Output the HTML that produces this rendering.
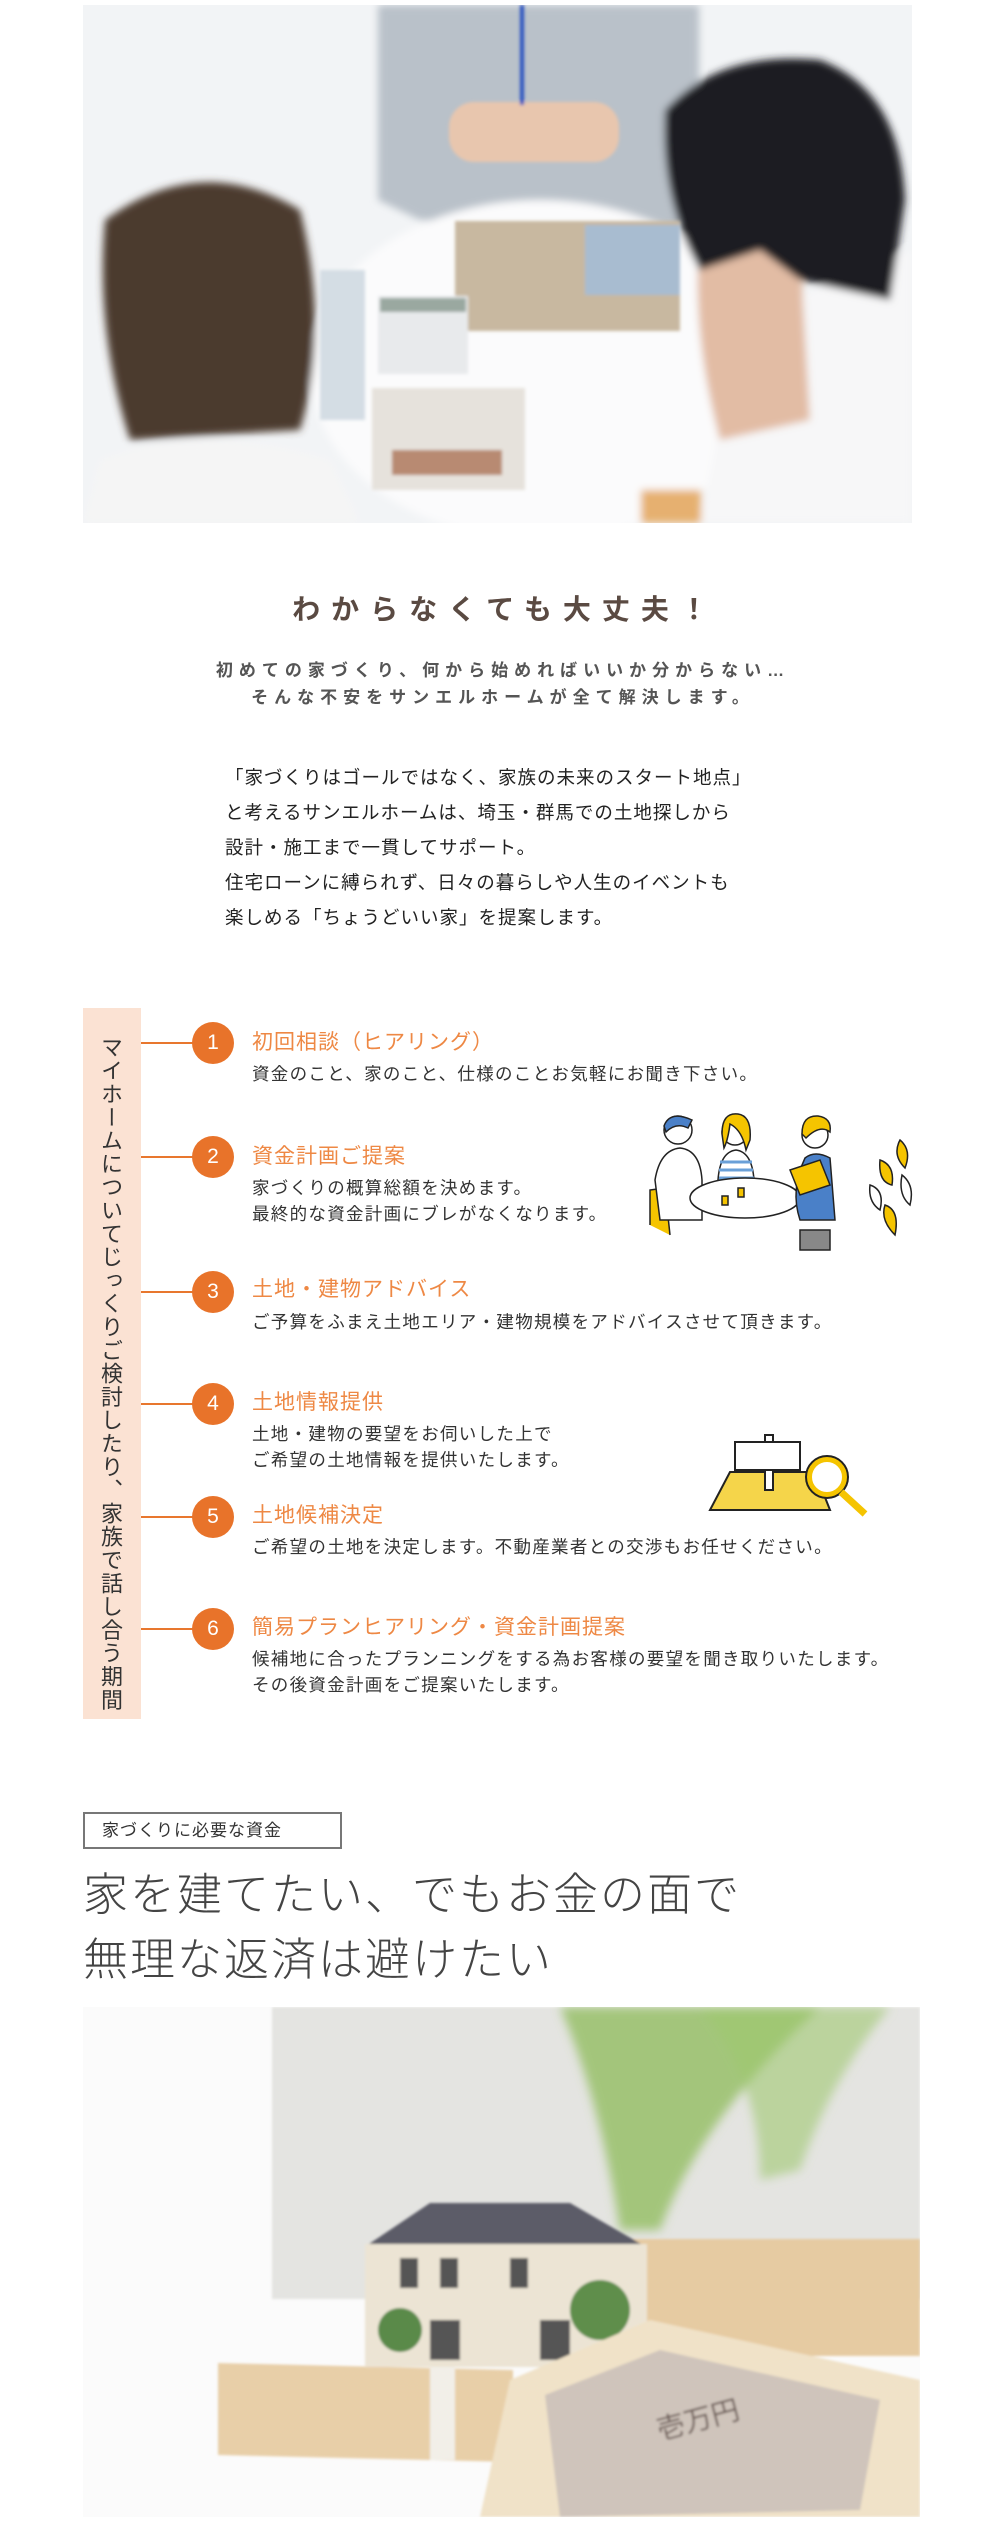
<!DOCTYPE html>
<html lang="ja"><head><meta charset="utf-8">
<style>
*{margin:0;padding:0;box-sizing:border-box}
html,body{width:1000px;height:2533px;background:#fff;overflow:hidden}
body{position:relative;font-family:"Liberation Sans","Noto Sans CJK JP",sans-serif}
.a{position:absolute;white-space:nowrap}
.title{left:0;width:1000px;text-align:center;top:588px;font-size:28px;font-weight:bold;color:#5a4a42;letter-spacing:11px;padding-left:11px}
.sub{left:0;width:1000px;text-align:center;font-size:17px;font-weight:bold;color:#555;letter-spacing:6px;padding-left:6px}
.para{left:225px;top:760px;font-size:18.5px;line-height:35px;color:#222;letter-spacing:1px}
.band{left:83px;top:1008px;width:58px;height:711px;background:#fbe2d3}
.vt{left:98px;top:1036px;writing-mode:vertical-rl;font-size:22px;letter-spacing:1.3px;color:#333;line-height:24px}
.ln{left:141px;width:52px;height:2px;background:#e8772e}
.c{left:192px;width:42px;height:42px;border-radius:50%;background:#e8732a;color:#fff;font-size:21px;text-align:center;line-height:42px}
.h{left:252px;font-size:21px;color:#ee8844;letter-spacing:1px;line-height:26px}
.d{left:252px;font-size:17.5px;color:#333;letter-spacing:1.3px;line-height:26px}
.box{left:83px;top:1812px;width:259px;height:37px;border:2px solid #777;font-size:17px;color:#333;line-height:33px;padding-left:17px;letter-spacing:1px}
.big{left:83px;font-size:45px;font-weight:300;color:#444;letter-spacing:2px;line-height:60px}
</style></head><body>

<svg class="a" style="left:83px;top:5px" width="829" height="518" viewBox="83 5 829 518">
<defs><filter id="b1"><feGaussianBlur stdDeviation="4"/></filter><filter id="b2"><feGaussianBlur stdDeviation="1.5"/></filter></defs>
<rect x="83" y="5" width="829" height="518" fill="#f2f4f6"/>
<g filter="url(#b1)">
<path d="M378 5 L699 5 L699 220 L660 230 L420 220 L378 200 Z" fill="#b9c1c9"/>
<ellipse cx="540" cy="370" rx="230" ry="170" fill="#fbfbfc"/>
<path d="M740 320 L912 250 L912 523 L700 523Z" fill="#f7f7f8"/>
<path d="M700 230 L800 250 L810 420 L720 440 Q690 330 700 230Z" fill="#e2bca4"/>
<path d="M665 110 Q720 50 820 60 Q900 90 905 200 L890 300 L800 280 L760 250 L700 270 Q660 200 665 110Z" fill="#1e1e22"/>
<path d="M105 220 Q200 150 300 210 Q330 330 300 430 L130 440 Q95 330 105 220Z" fill="#4b3a2f"/>
<path d="M100 460 Q200 420 330 460 L360 523 L83 523Z" fill="#f5f5f5"/>
<rect x="641" y="490" width="60" height="33" fill="#e6b070"/>
</g>
<g filter="url(#b2)">
<rect x="449" y="102" width="170" height="60" rx="25" fill="#e8c6ae"/>
<rect x="520" y="5" width="4" height="100" fill="#2850c0"/>
<rect x="455" y="221" width="225" height="110" fill="#c8b8a0"/>
<rect x="585" y="225" width="95" height="70" fill="#a8bcd0"/>
<rect x="378" y="296" width="90" height="78" fill="#e8eaec"/>
<rect x="380" y="298" width="86" height="14" fill="#9aa8a0"/>
<rect x="372" y="388" width="153" height="102" fill="#e6e2dc"/>
<rect x="392" y="450" width="110" height="25" fill="#b88a72"/>
<rect x="320" y="270" width="45" height="150" fill="#d4dde4"/>
</g>
</svg>

<div class="a title">わからなくても大丈夫！</div>
<div class="a sub" style="top:656px">初めての家づくり、何から始めればいいか分からない…</div>
<div class="a sub" style="top:683px">そんな不安をサンエルホームが全て解決します。</div>

<div class="a para">「家づくりはゴールではなく、家族の未来のスタート地点」<br>と考えるサンエルホームは、埼玉・群馬での土地探しから<br>設計・施工まで一貫してサポート。<br>住宅ローンに縛られず、日々の暮らしや人生のイベントも<br>楽しめる「ちょうどいい家」を提案します。</div>

<div class="a band"></div>
<div class="a vt">マイホームについてじっくりご検討したり、家族で話し合う期間</div>

<div class="a ln" style="top:1042px"></div><div class="a c" style="top:1022px">1</div>
<div class="a h" style="top:1030px">初回相談（ヒアリング）</div>
<div class="a d" style="top:1061px">資金のこと、家のこと、仕様のことお気軽にお聞き下さい。</div>

<div class="a ln" style="top:1156px"></div><div class="a c" style="top:1136px">2</div>
<div class="a h" style="top:1144px">資金計画ご提案</div>
<div class="a d" style="top:1175px">家づくりの概算総額を決めます。<br>最終的な資金計画にブレがなくなります。</div>

<div class="a ln" style="top:1291px"></div><div class="a c" style="top:1271px">3</div>
<div class="a h" style="top:1277px">土地・建物アドバイス</div>
<div class="a d" style="top:1309px">ご予算をふまえ土地エリア・建物規模をアドバイスさせて頂きます。</div>

<div class="a ln" style="top:1403px"></div><div class="a c" style="top:1383px">4</div>
<div class="a h" style="top:1390px">土地情報提供</div>
<div class="a d" style="top:1421px">土地・建物の要望をお伺いした上で<br>ご希望の土地情報を提供いたします。</div>

<div class="a ln" style="top:1516px"></div><div class="a c" style="top:1496px">5</div>
<div class="a h" style="top:1503px">土地候補決定</div>
<div class="a d" style="top:1534px">ご希望の土地を決定します。不動産業者との交渉もお任せください。</div>

<div class="a ln" style="top:1628px"></div><div class="a c" style="top:1608px">6</div>
<div class="a h" style="top:1615px">簡易プランヒアリング・資金計画提案</div>
<div class="a d" style="top:1646px">候補地に合ったプランニングをする為お客様の要望を聞き取りいたします。<br>その後資金計画をご提案いたします。</div>

<svg class="a" style="left:630px;top:1110px" width="295" height="145" viewBox="0 0 295 145" fill="none" stroke="#222" stroke-width="1.5">
<path d="M20 115 L20 80 L35 78 L40 125" fill="#f5c400"/>
<circle cx="48" cy="20" r="14" fill="#fff"/><path d="M34 16 Q40 0 62 10 L58 18 Q46 12 36 22Z" fill="#4a80c8"/>
<path d="M25 70 Q30 40 50 38 Q70 40 72 70 L72 110 L30 110Z" fill="#fff"/>
<circle cx="105" cy="22" r="13" fill="#fff"/><path d="M92 24 Q92 2 108 4 Q122 6 120 30 L116 40 Q112 20 100 14 Q98 30 94 38Z" fill="#f5c400"/>
<path d="M88 70 Q90 42 106 40 Q122 42 124 70 L124 90 L88 90Z" fill="#fff"/>
<path d="M90 52 H122 M89 60 H123 M89 68 H124" stroke="#6aa0d8" stroke-width="3"/>
<ellipse cx="115" cy="88" rx="55" ry="20" fill="#fff"/>
<rect x="92" y="86" width="6" height="9" fill="#f5c400"/><rect x="108" y="78" width="6" height="9" fill="#f5c400"/>
<circle cx="185" cy="25" r="13" fill="#fff"/><path d="M172 24 Q172 5 188 6 Q202 8 200 22 Q190 14 176 28Z" fill="#f5c400"/>
<path d="M175 48 Q185 40 200 48 L205 110 L170 110 Q160 80 175 48Z" fill="#4a80c8"/>
<path d="M160 60 L190 50 L200 75 L170 85Z" fill="#f5c400"/>
<rect x="170" y="120" width="30" height="20" fill="#888"/>
<path d="M250 50 Q265 55 262 75 Q248 72 250 50Z M270 30 Q282 40 275 58 Q262 45 270 30Z M255 95 Q270 100 265 125 Q250 110 255 95Z" fill="#f5c400"/>
<path d="M240 75 Q255 80 250 100 Q238 92 240 75Z M272 65 Q285 75 280 95 Q268 85 272 65Z" fill="#fff"/>
</svg>

<svg class="a" style="left:705px;top:1432px" width="170" height="85" viewBox="0 0 170 85" stroke="#222" stroke-width="2">
<path d="M25 40 L110 40 L125 78 L5 78Z" fill="#f5d54a"/>
<rect x="60" y="3" width="8" height="55" fill="#fff"/>
<rect x="30" y="10" width="65" height="28" fill="#fff"/>
<circle cx="122" cy="45" r="18" fill="#fff" stroke="#f5c400" stroke-width="6"/>
<circle cx="122" cy="45" r="21" fill="none"/>
<path d="M136 60 L160 82" stroke="#f5c400" stroke-width="7"/>
</svg>

<div class="a box">家づくりに必要な資金</div>
<div class="a big" style="top:1865px">家を建てたい、でもお金の面で</div>
<div class="a big" style="top:1930px">無理な返済は避けたい</div>

<svg class="a" style="left:83px;top:2007px" width="837" height="510" viewBox="83 2007 837 510">
<defs><filter id="b3"><feGaussianBlur stdDeviation="5"/></filter><filter id="b4"><feGaussianBlur stdDeviation="1.2"/></filter></defs>
<rect x="83" y="2007" width="837" height="510" fill="#fbfbfb"/>
<rect x="272" y="2007" width="648" height="292" fill="#e4e4e1" filter="url(#b4)"/>
<g filter="url(#b3)">
<path d="M560 2007 Q600 2100 620 2230 L660 2230 Q700 2120 820 2007Z" fill="#8dbb5a" opacity="0.75"/>
<path d="M700 2007 Q760 2080 760 2180 L800 2170 Q830 2080 890 2007Z" fill="#9ec870" opacity="0.6"/>
</g>
<g filter="url(#b4)">
<rect x="622" y="2239" width="298" height="117" fill="#e6cba2"/>
<path d="M218 2363 L513 2370 L513 2462 L218 2455Z" fill="#e8cfa8"/>
<rect x="430" y="2365" width="25" height="95" fill="#f2efe8"/>
<rect x="365" y="2244" width="282" height="123" fill="#ece4d4"/>
<path d="M369 2244 L430 2203 L570 2203 L641 2244Z" fill="#5c5c68"/>
<rect x="400" y="2258" width="18" height="30" fill="#555"/><rect x="440" y="2258" width="18" height="30" fill="#555"/><rect x="510" y="2258" width="18" height="30" fill="#555"/>
<rect x="430" y="2320" width="30" height="40" fill="#555"/><rect x="540" y="2320" width="30" height="40" fill="#555"/>
<circle cx="400" cy="2330" r="22" fill="#5a8a4a"/><circle cx="600" cy="2310" r="30" fill="#5e8e4c"/>
<path d="M510 2380 L650 2320 L920 2380 L920 2517 L480 2517Z" fill="#f0e2c8"/>
<path d="M545 2395 L660 2350 L880 2400 L860 2510 L560 2517Z" fill="#cfc4bb"/>
<text x="660" y="2440" font-family="Liberation Sans,Noto Sans CJK JP,sans-serif" font-size="28" fill="#6a5a55" transform="rotate(-15 660 2440)">壱万円</text>
</g>
</svg>
</body></html>
